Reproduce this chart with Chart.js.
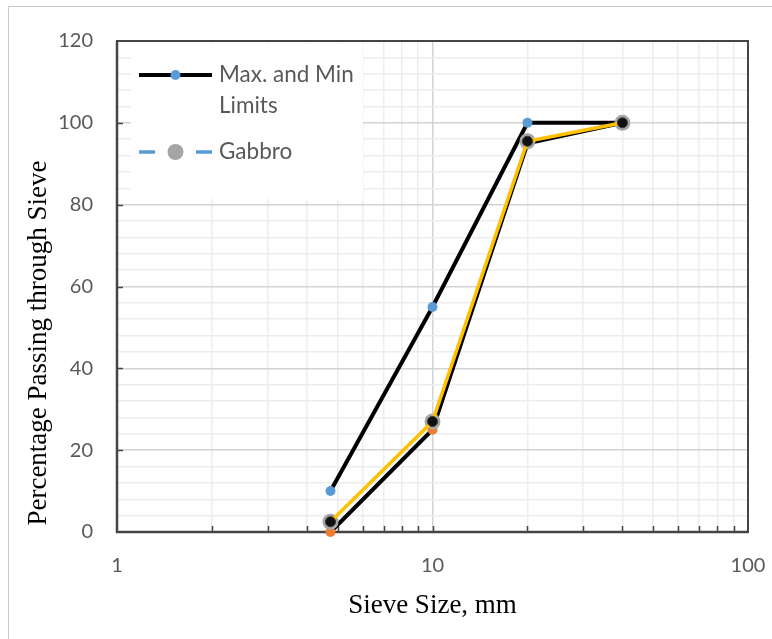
<!DOCTYPE html>
<html>
<head>
<meta charset="utf-8">
<script src="https://cdn.jsdelivr.net/npm/chart.js@4"></script>
<style>
  html, body { margin: 0; padding: 0; background: #fff; }
  #wrap { width: 772px; height: 639px; }
</style>
</head>
<body>
<div id="wrap"><canvas id="c" width="772" height="639"></canvas></div>
<script>
'use strict';
// ── Data ──────────────────────────────────────────────────
const SIEVE      = [4.75, 10, 20, 40];
const MAX_LIMIT  = [10, 55, 100, 100];
const MIN_LIMIT  = [0, 25, 95, 100];
const GABBRO     = [2.5, 27, 95.5, 100];
const X_TICKS    = [1, 2, 3, 4, 5, 6, 7, 8, 9, 10, 20, 30, 40, 50, 60, 70, 80, 90, 100];
const X_LABELS   = [1, 10, 100];
const Y_MIN = 0, Y_MAX = 120, Y_STEP = 4, Y_LABEL_STEP = 20;

const X_TITLE = 'Sieve Size, mm';
const Y_TITLE = 'Percentage Passing through Sieve';
const LEGEND_NAMES = ['Max. and Min Limits', 'Gabbro'];

const pts = ys => SIEVE.map((x, i) => ({ x, y: ys[i] }));

const TICK_FONT = { family: 'Lato', size: 20 };
const GREY_TXT = '#595959';
const FRAME = '#454545';
const SERIF = '"Liberation Serif", "Times New Roman", serif';

// ── Plugins ───────────────────────────────────────────────
const decor = {
  id: 'decor',
  beforeDraw(chart) {
    const ctx = chart.ctx;
    ctx.save();
    ctx.strokeStyle = '#C8C8C8';
    ctx.lineWidth = 1;
    ctx.beginPath();
    ctx.moveTo(8.5, chart.height); ctx.lineTo(8.5, 6.5); ctx.lineTo(chart.width, 6.5);
    ctx.stroke();
    ctx.restore();
  },
  beforeDatasetsDraw(chart) {
    const { ctx, chartArea: a, scales: { x, y } } = chart;
    ctx.save();
    // frame
    ctx.strokeStyle = FRAME;
    ctx.lineWidth = 2;
    ctx.strokeRect(a.left, a.top, a.right - a.left, a.bottom - a.top);
    ctx.lineWidth = 2.5;
    ctx.beginPath();
    ctx.moveTo(a.left, a.top); ctx.lineTo(a.left, a.bottom); ctx.lineTo(a.right, a.bottom);
    ctx.stroke();
    // inner tick marks
    ctx.lineWidth = 1.5;
    ctx.beginPath();
    X_TICKS.filter(v => v !== X_TICKS[0] && v !== X_TICKS[X_TICKS.length - 1]).forEach(v => {
      const px = Math.round(x.getPixelForValue(v)) + 0.5;
      ctx.moveTo(px, a.bottom); ctx.lineTo(px, a.bottom - 6);
    });
    for (let v = Y_LABEL_STEP; v < Y_MAX; v += Y_LABEL_STEP) {
      const py = Math.round(y.getPixelForValue(v)) + 0.5;
      ctx.moveTo(a.left, py); ctx.lineTo(a.left + 6, py);
    }
    ctx.stroke();
    // y title
    ctx.fillStyle = '#000';
    ctx.font = '27px ' + SERIF;
    ctx.textAlign = 'center';
    ctx.textBaseline = 'alphabetic';
    ctx.translate(46, 343);
    ctx.rotate(-Math.PI / 2);
    ctx.fillText(Y_TITLE, 0, 0);
    ctx.restore();
  },
  afterDraw(chart) {
    const { ctx, chartArea: a } = chart;
    ctx.save();
    // legend box inside the plot area
    const bx = a.left + 14, by = a.top + 2, bw = 232, bh = 156;
    ctx.fillStyle = '#fff';
    ctx.fillRect(bx, by, bw, bh);
    ctx.font = '22.5px Lato';
    ctx.fillStyle = GREY_TXT;
    ctx.textBaseline = 'middle';
    ctx.textAlign = 'left';
    const x0 = a.left + 22, x1 = a.left + 95, xm = (x0 + x1) / 2, tx = a.left + 102;

    // entry 1: solid black line, blue dot
    let yy = a.top + 34;
    ctx.strokeStyle = '#000'; ctx.lineWidth = 4;
    ctx.beginPath(); ctx.moveTo(x0, yy); ctx.lineTo(x1, yy); ctx.stroke();
    ctx.fillStyle = '#5B9BD5';
    ctx.beginPath(); ctx.arc(xm, yy, 5, 0, Math.PI * 2); ctx.fill();
    ctx.fillStyle = GREY_TXT;
    wrap(ctx, LEGEND_NAMES[0], 150).forEach((ln, i) => ctx.fillText(ln, tx, yy + i * 31));

    // entry 2: dashed blue, grey dot
    yy = a.top + 111;
    ctx.strokeStyle = '#5B9BD5'; ctx.lineWidth = 3.5;
    ctx.beginPath();
    ctx.moveTo(x0, yy); ctx.lineTo(x0 + 16, yy);
    ctx.moveTo(x1 - 16, yy); ctx.lineTo(x1, yy);
    ctx.stroke();
    ctx.fillStyle = '#A5A5A5';
    ctx.beginPath(); ctx.arc(xm, yy, 8, 0, Math.PI * 2); ctx.fill();
    ctx.fillStyle = GREY_TXT;
    ctx.fillText(LEGEND_NAMES[1], tx, yy);
    ctx.restore();
  }
};

function wrap(ctx, text, maxW) {
  const words = text.split(' '), lines = [];
  let cur = '';
  for (const w of words) {
    const t = cur ? cur + ' ' + w : w;
    if (ctx.measureText(t).width > maxW && cur) { lines.push(cur); cur = w; }
    else cur = t;
  }
  if (cur) lines.push(cur);
  return lines;
}

// ── Chart ─────────────────────────────────────────────────
new Chart(document.getElementById('c').getContext('2d'), {
  type: 'scatter',
  data: {
    datasets: [
      { label: 'Max. Limit', data: pts(MAX_LIMIT), showLine: true, order: 4, clip: false,
        borderColor: '#000', borderWidth: 4,
        pointRadius: 5, pointBackgroundColor: '#5B9BD5', pointBorderWidth: 0 },
      { label: 'Min. Limit', data: pts(MIN_LIMIT), showLine: true, order: 3, clip: false,
        borderColor: '#000', borderWidth: 4,
        pointRadius: 5, pointBackgroundColor: '#ED7D31', pointBorderWidth: 0 },
      { label: 'Gabbro', data: pts(GABBRO), showLine: true, order: 2, clip: false,
        borderColor: '#5B9BD5', borderWidth: 2.5, borderDash: [8, 6],
        pointRadius: 8, pointBackgroundColor: '#A5A5A5', pointBorderWidth: 0 },
      { label: 'Gabbro curve', data: pts(GABBRO), showLine: true, order: 1, clip: false,
        borderColor: '#FFC000', borderWidth: 3.5,
        pointRadius: 5, pointBackgroundColor: '#111', pointBorderColor: '#333', pointBorderWidth: 1 },
    ]
  },
  options: {
    responsive: false, animation: false,
    layout: { padding: { top: 41, right: 24, left: 0, bottom: 0 } },
    plugins: { legend: { display: false }, tooltip: { enabled: false } },
    scales: {
      x: {
        type: 'logarithmic', min: 1, max: 100,
        afterBuildTicks: s => { s.ticks = X_TICKS.map(v => ({ value: v })); },
        afterFit: s => { s.height = 107; s.paddingLeft = 0; s.paddingRight = 0; },
        border: { display: false },
        grid: {
          drawTicks: false,
          color: c => X_LABELS.includes(c.tick?.value) ? '#D4D4D4' : '#EDEDED',
          lineWidth: 1.5,
        },
        ticks: {
          autoSkip: false, maxRotation: 0, padding: 22,
          color: GREY_TXT, font: TICK_FONT,
          callback: v => X_LABELS.includes(v) ? String(v) : '',
        },
        title: {
          display: true, text: X_TITLE, color: '#000',
          font: { family: SERIF, size: 27 },
          padding: { bottom: 17 },
        },
      },
      y: {
        min: Y_MIN, max: Y_MAX,
        afterFit: s => { s.width = 117; s.paddingTop = 0; s.paddingBottom = 0; },
        border: { display: false },
        grid: {
          drawTicks: false,
          color: c => c.tick.value % Y_LABEL_STEP === 0 ? '#D4D4D4' : '#EDEDED',
          lineWidth: 1.5,
        },
        ticks: {
          stepSize: Y_STEP, autoSkip: false, padding: 24,
          color: GREY_TXT, font: TICK_FONT,
          callback: v => v % Y_LABEL_STEP === 0 ? String(v) : '',
        },
      },
    },
  },
  plugins: [decor],
});
</script>
</body>
</html>
